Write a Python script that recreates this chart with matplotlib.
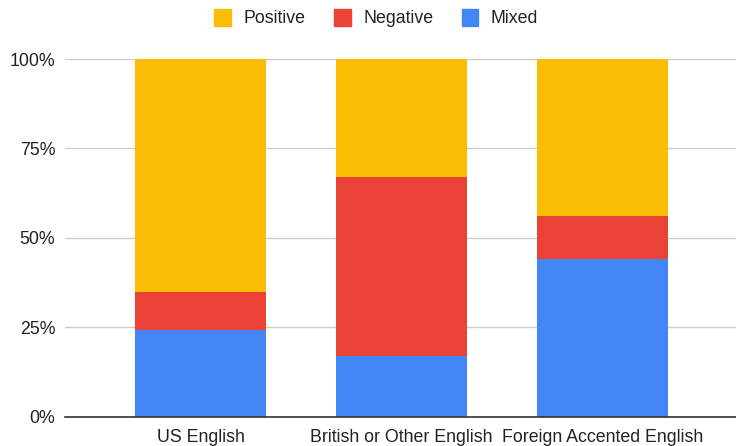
import matplotlib.pyplot as plt
import numpy as np
from matplotlib.patches import Patch

plt.rcParams['font.family'] = ['Liberation Sans', 'DejaVu Sans']

categories = ['US English', 'British or Other English', 'Foreign Accented English']
mixed = [24.2, 17.1, 44.0]
negative = [10.7, 49.9, 12.1]
positive = [65.1, 33.0, 43.9]

col_pos = '#fbbc04'
col_neg = '#ea4335'
col_mix = '#4285f4'

fig = plt.figure(figsize=(7.36, 4.46), dpi=100)
ax = fig.add_axes([65/736, (446-416.7)/446, 1 - 65/736, (416.7-59)/446])

x = np.arange(len(categories))
w = 0.652
ax.bar(x, mixed, w, color=col_mix, zorder=3)
ax.bar(x, negative, w, bottom=mixed, color=col_neg, zorder=3)
ax.bar(x, positive, w, bottom=np.add(mixed, negative), color=col_pos, zorder=3)

ax.set_xlim(-0.676, 2.664)
ax.set_ylim(0, 100)
ax.set_yticks([0, 25, 50, 75, 100])
ax.set_yticklabels(['0%', '25%', '50%', '75%', '100%'])
ax.set_xticks(x)
ax.set_xticklabels(categories)
ax.tick_params(axis='both', length=0, labelsize=12.8, colors='#222222')
ax.tick_params(axis='y', pad=7)
ax.tick_params(axis='x', pad=9)
ax.yaxis.grid(True, color='#cccccc', linewidth=1, zorder=0)
for s in ['top', 'right', 'left']:
    ax.spines[s].set_visible(False)
ax.spines['bottom'].set_color('#333333')
ax.spines['bottom'].set_linewidth(1.2)
ax.spines['bottom'].set_zorder(4)

handles = [Patch(color=col_pos, label='Positive'),
           Patch(color=col_neg, label='Negative'),
           Patch(color=col_mix, label='Mixed')]
fig.legend(handles=handles, loc='center', bbox_to_anchor=(0.511, 1 - 18/446),
           ncol=3, frameon=False, fontsize=12.8, handlelength=0.95, handleheight=1.15,
           handletextpad=0.7, columnspacing=1.6, labelcolor='#222222')

fig.savefig('out.png', dpi=100)
